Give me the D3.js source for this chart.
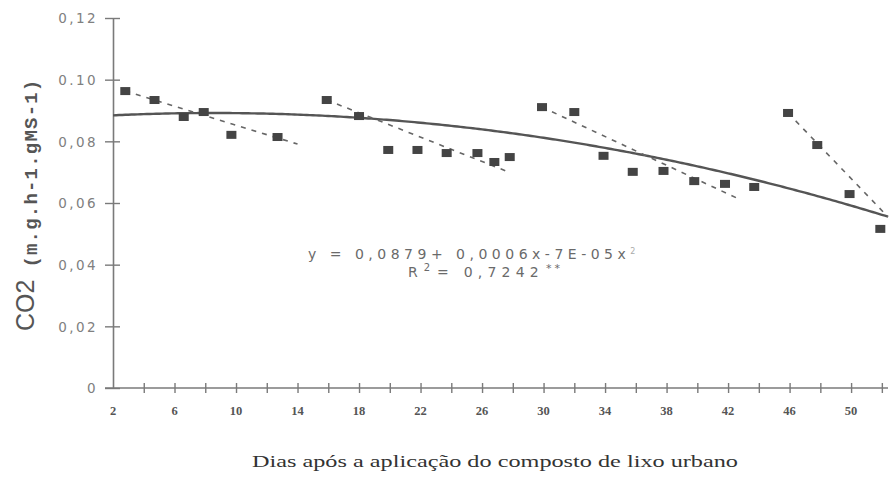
<!DOCTYPE html>
<html>
<head>
<meta charset="utf-8">
<script src="https://cdn.jsdelivr.net/npm/d3@7"></script>
<style>
  html, body { margin: 0; padding: 0; background: #fff; }
  svg { display: block; }
</style>
</head>
<body>
<svg id="chart" width="890" height="485"></svg>
<script>
// Respiração: CO2 liberado ao longo dos dias após a aplicação do composto
const days = [2.8, 4.7, 6.6, 7.9, 9.7, 12.7, 15.9, 18, 19.9, 21.8, 23.7, 25.7, 26.8,
              27.8, 29.9, 32, 33.9, 35.8, 37.8, 39.8, 41.8, 43.7, 45.9, 47.8, 49.9, 51.9];
const co2 = [0.0963, 0.0934, 0.0879, 0.0895, 0.0821, 0.0814, 0.0934, 0.0882, 0.0772,
             0.0772, 0.0762, 0.0762, 0.0733, 0.0749, 0.0911, 0.0895, 0.0753, 0.0701,
             0.0704, 0.0671, 0.0662, 0.0652, 0.0892, 0.0788, 0.0629, 0.0516];

// Tendências de cada período (início e fim, em dias e mg)
const trendStartDay = [2.8, 15.9, 29.9, 45.9];
const trendStartVal = [0.0963, 0.0934, 0.0911, 0.0892];
const trendEndDay = [14.0, 27.7, 42.7, 52.4];
const trendEndVal = [0.0791, 0.0701, 0.0613, 0.0555];

// Ajuste polinomial: y = a + b·x + c·x², x = ordem da amostragem (dia / 2)
const coefA = 0.0879, coefB = 0.0006, coefC = -7e-5;
const r2 = 0.7242;

const yTicks = [0, 0.02, 0.04, 0.06, 0.08, 0.10, 0.12];
const yTickLabels = ["0", "0,02", "0,04", "0,06", "0,08", "0.10", "0,12"];
const xTicks = d3.range(4, 53, 2);
const xTickLabels = ["2", "6", "10", "14", "18", "22", "26", "30", "34", "38", "42", "46", "50"];

const svg = d3.select("#chart");
const x = d3.scaleLinear().domain([2, 52.4]).range([113, 888]);
const y = d3.scaleLinear().domain([0, 0.12]).range([388, 18]);

const axisColor = "#7a7a7a";
const comma = v => String(v).replace(".", ",");

// Eixo Y
const yAxis = svg.append("g").attr("transform", `translate(${x(2)},0)`)
  .call(d3.axisLeft(y).tickValues(yTicks).tickSize(8).tickSizeOuter(0)
        .tickFormat((d, i) => yTickLabels[i]));
yAxis.select(".domain").attr("stroke", axisColor).attr("stroke-width", 1.6);
yAxis.selectAll(".tick line").attr("stroke", axisColor).attr("stroke-width", 1.4).attr("x2", 7).attr("x1", -8);
yAxis.selectAll(".tick text")
  .attr("x", -15).attr("dy", "0.35em")
  .attr("fill", "#808080")
  .style("font-family", "'DejaVu Sans', sans-serif")
  .style("font-size", "13.5px")
  .style("letter-spacing", "2.4px");

// Eixo X
const xAxis = svg.append("g").attr("transform", `translate(0,${y(0)})`)
  .call(d3.axisBottom(x).tickValues(xTicks).tickSize(5).tickSizeOuter(0).tickFormat(""));
xAxis.select(".domain").attr("stroke", axisColor).attr("stroke-width", 1.6)
  .attr("d", `M${x(2) - 8},0H888`);
xAxis.selectAll(".tick line").attr("stroke", axisColor).attr("stroke-width", 1.4).attr("y1", -5).attr("y2", 5);

svg.append("g").selectAll("text").data(xTickLabels).join("text")
  .attr("x", d => x(+d))
  .attr("y", 415)
  .attr("text-anchor", "middle")
  .attr("fill", "#555")
  .style("font-family", "'Liberation Serif', 'Times New Roman', serif")
  .style("font-weight", "bold")
  .style("font-size", "12.5px")
  .text(d => d);

// Curva ajustada
const fit = d => coefA + coefB * (d / 2) + coefC * (d / 2) * (d / 2);
const curveDays = d3.range(2, 52.41, 0.2);
svg.append("path")
  .datum(curveDays)
  .attr("fill", "none")
  .attr("stroke", "#555")
  .attr("stroke-width", 2.4)
  .attr("d", d3.line().x(d => x(d)).y(d => y(fit(d))));

// Retas tracejadas por período
svg.append("g").selectAll("line").data(trendStartDay).join("line")
  .attr("x1", (d, i) => x(trendStartDay[i]))
  .attr("y1", (d, i) => y(trendStartVal[i]))
  .attr("x2", (d, i) => x(trendEndDay[i]))
  .attr("y2", (d, i) => y(trendEndVal[i]))
  .attr("stroke", "#666")
  .attr("stroke-width", 1.6)
  .attr("stroke-dasharray", "5,6");

// Pontos observados
svg.append("g").selectAll("rect").data(days).join("rect")
  .attr("x", (d, i) => x(d) - 5)
  .attr("y", (d, i) => y(co2[i]) - 4)
  .attr("width", 10)
  .attr("height", 8)
  .attr("fill", "#444");

// Equação e coeficiente de determinação
const eqStyle = s => s
  .attr("fill", "#6a6a6a")
  .style("font-family", "'DejaVu Sans', sans-serif")
  .style("font-size", "14px");

const eq1 = svg.append("text").attr("x", 308).attr("y", 259).call(eqStyle);
eq1.append("tspan").style("letter-spacing", "4.5px")
  .text(`y = ${comma(coefA)}+  ${comma(coefB)}x-7E-05x`);
eq1.append("tspan").attr("dy", -5).style("font-size", "8px").attr("fill", "#aaa").text("2");

const eq2 = svg.append("text").attr("x", 408).attr("y", 277).call(eqStyle);
eq2.append("tspan").text("R");
eq2.append("tspan").attr("dx", 6).attr("dy", -6).style("font-size", "10px").text("2");
eq2.append("tspan").attr("dy", 6).attr("dx", 7).style("letter-spacing", "5.2px")
  .text(`= ${comma(r2)}`);
eq2.append("tspan").attr("dy", -5).attr("dx", 2).style("font-size", "11px").style("letter-spacing", "3px").text("**");

// Título do eixo Y
const yTitle = svg.append("text")
  .attr("transform", "translate(34,331) rotate(-90)")
  .attr("fill", "#555");
yTitle.append("tspan")
  .style("font-family", "'Liberation Sans', Arial, sans-serif")
  .style("font-size", "25px")
  .text("CO2");
yTitle.append("tspan")
  .attr("dx", 12)
  .attr("dy", 3)
  .style("font-family", "'Liberation Mono', 'Courier New', monospace")
  .style("font-size", "19px")
  .style("font-weight", "bold")
  .style("letter-spacing", "1.2px")
  .text("(m.g.h-1.gMS-1)");

// Título do eixo X
svg.append("text")
  .attr("x", 252)
  .attr("y", 467)
  .attr("fill", "#333")
  .style("font-family", "'Liberation Serif', 'Times New Roman', serif")
  .style("font-size", "17px")
  .attr("textLength", 486)
  .attr("lengthAdjust", "spacingAndGlyphs")
  .text("Dias após a aplicação do composto de lixo urbano");
</script>
</body>
</html>
